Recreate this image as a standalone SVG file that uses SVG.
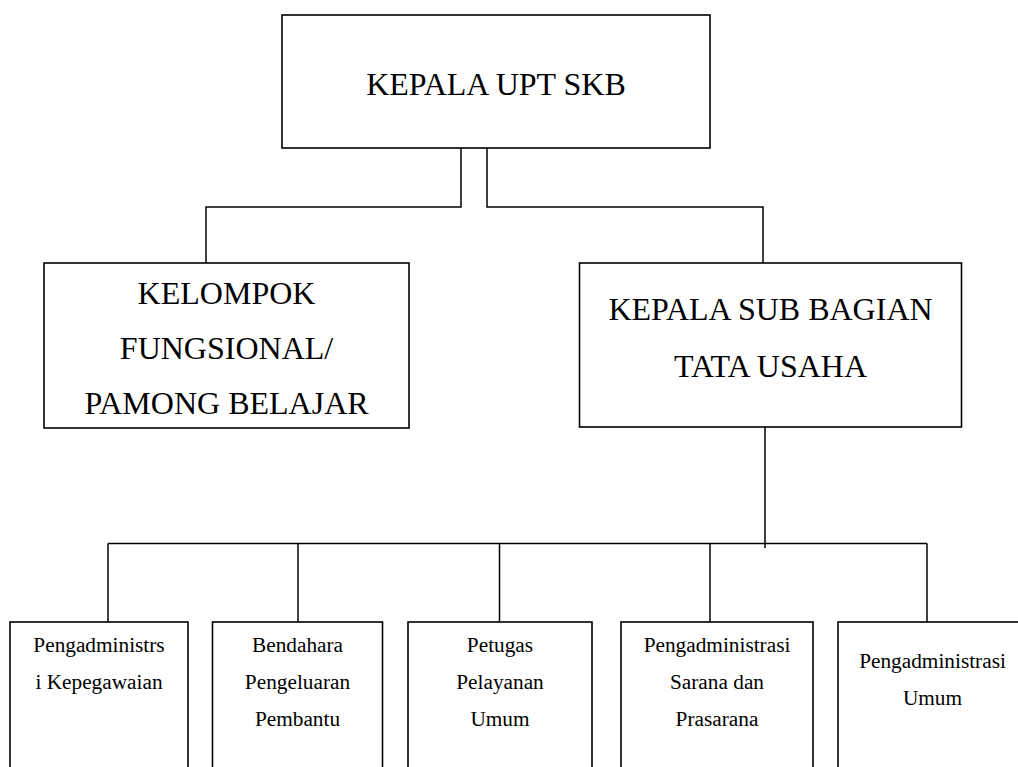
<svg xmlns="http://www.w3.org/2000/svg" width="1018" height="767" viewBox="0 0 1018 767">
<style>
.box{fill:#fff;stroke:#000;stroke-width:1.6}
.ln{fill:none;stroke:#000;stroke-width:1.5}
text{font-family:'Liberation Serif','Tinos','Times New Roman','DejaVu Serif',serif;fill:#000;text-anchor:middle}
.big{font-size:32px}
.sm{font-size:21.3px}
</style>
<rect width="1018" height="767" fill="#fff"/>
<g id="connectors">
<polyline class="ln" points="461,148 461,207 206,207 206,263"/>
<polyline class="ln" points="487,148 487,207 763,207 763,263"/>
<line class="ln" x1="765" y1="427" x2="765" y2="548"/>
<line class="ln" x1="108" y1="543.5" x2="927" y2="543.5"/>
<line class="ln" x1="108" y1="543.5" x2="108" y2="622"/>
<line class="ln" x1="298" y1="543.5" x2="298" y2="622"/>
<line class="ln" x1="499.5" y1="543.5" x2="499.5" y2="622"/>
<line class="ln" x1="710" y1="543.5" x2="710" y2="622"/>
<line class="ln" x1="927" y1="543.5" x2="927" y2="622"/>
</g>
<g id="kepala-upt">
<rect class="box" x="282" y="15" width="428" height="133"/>
<text class="big" x="496" y="95">KEPALA UPT SKB</text>
</g>
<g id="kelompok">
<rect class="box" x="44" y="263" width="365" height="165"/>
<text class="big" x="226.5" y="304">KELOMPOK</text>
<text class="big" x="226.5" y="359">FUNGSIONAL/</text>
<text class="big" x="226.5" y="414">PAMONG BELAJAR</text>
</g>
<g id="kasubag">
<rect class="box" x="579.5" y="263" width="382" height="164"/>
<text class="big" x="770.5" y="320">KEPALA SUB BAGIAN</text>
<text class="big" x="770.5" y="377">TATA USAHA</text>
</g>
<g id="b1">
<rect class="box" x="10" y="622" width="178" height="170"/>
<text class="sm" x="99" y="652">Pengadministrs</text>
<text class="sm" x="99" y="689">i Kepegawaian</text>
</g>
<g id="b2">
<rect class="box" x="212.5" y="622" width="170" height="170"/>
<text class="sm" x="297.5" y="652">Bendahara</text>
<text class="sm" x="297.5" y="689">Pengeluaran</text>
<text class="sm" x="297.5" y="726">Pembantu</text>
</g>
<g id="b3">
<rect class="box" x="408" y="622" width="184" height="170"/>
<text class="sm" x="500" y="652">Petugas</text>
<text class="sm" x="500" y="689">Pelayanan</text>
<text class="sm" x="500" y="726">Umum</text>
</g>
<g id="b4">
<rect class="box" x="621" y="622" width="192" height="170"/>
<text class="sm" x="717" y="652">Pengadministrasi</text>
<text class="sm" x="717" y="689">Sarana dan</text>
<text class="sm" x="717" y="726">Prasarana</text>
</g>
<g id="b5">
<rect class="box" x="838" y="622" width="190" height="170"/>
<text class="sm" x="932.5" y="668">Pengadministrasi</text>
<text class="sm" x="932.5" y="705">Umum</text>
</g>
</svg>
